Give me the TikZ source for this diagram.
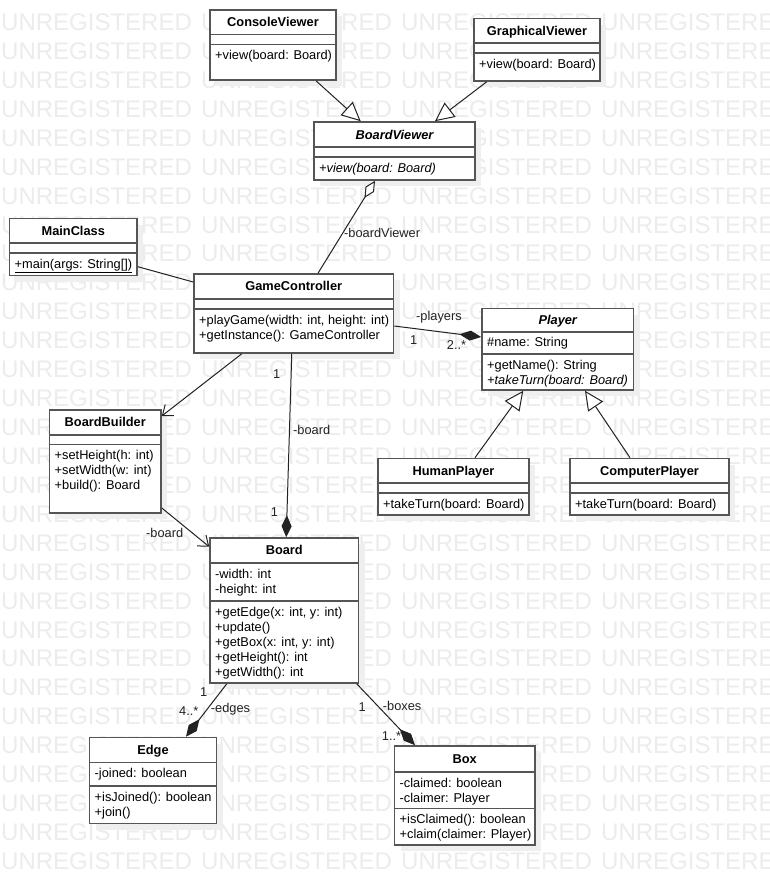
\documentclass[tikz,border=0pt]{standalone}
\usepackage{fontspec}
\setmainfont{Liberation Sans}
\usetikzlibrary{arrows.meta,fit,calc}
\definecolor{boxgray}{HTML}{555555}
\definecolor{shadowgray}{HTML}{EFEFEF}
\definecolor{wmgray}{HTML}{ECECEC}
\definecolor{linec}{HTML}{222222}
\tikzset{
  cls/.style={draw=boxgray, line width=1.6pt, fill=white, inner sep=0pt},
  dv/.style={draw=boxgray, line width=1.6pt},
  ttl/.style={font=\bfseries\fontsize{12.8}{15}\selectfont, anchor=base, inner sep=0pt},
  mtxt/.style={font=\fontsize{12.8}{15}\selectfont, anchor=base west, inner sep=0pt},
  lbl/.style={font=\fontsize{12.8}{15}\selectfont, anchor=base west, inner sep=0pt, text=linec},
  conn/.style={draw=linec, line width=1pt},
  gen/.style={conn, -{Triangle[open, length=19pt, width=18pt, fill=white]}},
  agg/.style={conn, {Diamond[open, length=20pt, width=10pt, fill=white]}-},
  comp/.style={conn, -{Diamond[length=22pt, width=10pt]}},
  nav/.style={conn, -{Straight Barb[length=9pt, width=14pt]}},
  wm/.style={font=\fontsize{24}{24}\selectfont, text=wmgray, anchor=base west, inner sep=0pt},
}
\newcommand\umlbox[7]{%
  \fill[shadowgray] ($(#2,#3)+(6,6)$) rectangle ($(#4,#5)+(6,6)$);
  \node[cls, fit={(#2,#3) (#4,#5)}] (#1) {};
  \draw[dv] (#2,#6) -- (#4,#6) (#2,#7) -- (#4,#7);
}
\newcommand\members[3]{\foreach \t [count=\i from 0] in {#3} {\node[mtxt] at (#1,{#2+15*\i}) {\t};}}
\begin{document}
\begin{tikzpicture}[x=1pt,y=-1pt]
\useasboundingbox (0,0) rectangle (769,886);
\fill[white] (0,0) rectangle (769,886);
% watermark
\begin{scope}
\clip (0,0) rectangle (769,886);
\foreach \r in {0,...,29} {\foreach \c in {0,...,3} {\node[wm] at ({1+200*\c},{30.5+28.93*\r}) {UNREGISTERED};}}
\end{scope}

% ConsoleViewer
\umlbox{cv}{210}{10}{336}{80}{34.5}{44.5}
\node[ttl] at (273,27) {ConsoleViewer};
\members{215}{59.5}{{+view(board: Board)}}
% GraphicalViewer
\umlbox{gv}{474}{18.5}{600}{81}{43}{53}
\node[ttl] at (537,35) {GraphicalViewer};
\members{479}{68}{{+view(board: Board)}}
% BoardViewer
\umlbox{bv}{314}{122}{475}{180}{147}{157}
\node[ttl] at (394.5,139) {\itshape BoardViewer};
\members{319}{172}{{\itshape +view(board: Board)}}
% MainClass
\umlbox{mc}{9.5}{218.5}{137}{275.5}{243}{253}
\node[ttl] at (73.25,235) {MainClass};
\members{14.5}{268}{{\underline{+main(args: String[])}}}
% GameController
\umlbox{gc}{194}{274}{393.5}{353}{299}{309}
\node[ttl] at (293.75,290.8) {GameController};
\members{199}{324}{{+playGame(width: int, height: int)},{+getInstance(): GameController}}
% Player
\umlbox{pl}{482}{308.5}{633.5}{390}{332}{354}
\node[ttl] at (557.75,324) {\itshape Player};
\members{487}{346.5}{{\#name: String}}
\members{487}{369}{{+getName(): String},{\itshape +takeTurn(board: Board)}}
% HumanPlayer
\umlbox{hp}{378}{458.5}{529}{515}{483}{493}
\node[ttl] at (453.5,475) {HumanPlayer};
\members{383}{508}{{+takeTurn(board: Board)}}
% ComputerPlayer
\umlbox{cp}{570}{458.5}{729}{515}{483}{493}
\node[ttl] at (649.5,475) {ComputerPlayer};
\members{575}{508}{{+takeTurn(board: Board)}}
% BoardBuilder
\umlbox{bb}{49.5}{410}{161}{513}{435}{444.5}
\node[ttl] at (105.25,426.8) {BoardBuilder};
\members{54.5}{459.5}{{+setHeight(h: int)},{+setWidth(w: int)},{+build(): Board}}
% Board
\umlbox{bd}{210}{538}{358.5}{683}{563}{601}
\node[ttl] at (284.25,554.8) {Board};
\members{215}{578}{{-width: int},{-height: int}}
\members{215}{616}{{+getEdge(x: int, y: int)},{+update()},{+getBox(x: int, y: int)},{+getHeight(): int},{+getWidth(): int}}
% Edge
\umlbox{ed}{89.5}{737.5}{216.5}{823.5}{762.5}{786}
\node[ttl] at (153,754.3) {Edge};
\members{94.5}{777.5}{{-joined: boolean}}
\members{94.5}{801}{{+isJoined(): boolean},{+join()}}
% Box
\umlbox{bx}{394.5}{746}{535}{845}{772}{808.5}
\node[ttl] at (464.75,763.3) {Box};
\members{399.5}{787}{{-claimed: boolean},{-claimer: Player}}
\members{399.5}{823.5}{{+isClaimed(): boolean},{+claim(claimer: Player)}}

% connectors
\draw[gen] ([xshift=43pt]cv.south) -- ([xshift=-33.8pt]bv.north);
\draw[gen] ([xshift=-50.3pt]gv.south) -- ([xshift=40.5pt]bv.north);
\draw[agg] ([xshift=-19.5pt]bv.south) -- ([xshift=24.25pt]gc.north);
\node[lbl] (lbv) at (344,237) {-boardViewer};
\draw[conn] ([yshift=-19.7pt]mc.east) -- ([yshift=31.5pt]gc.west);
\draw[comp] ([yshift=-12.5pt]gc.east) -- ([yshift=12.25pt]pl.west);
\node[lbl] (lpl) at (416,320) {-players};
\node[lbl] (lpl1) at (410,344) {1};
\node[lbl] (lpl2) at (446.7,349) {2..*};
\draw[gen] ([xshift=21.5pt]hp.north) -- ([xshift=-34.5pt]pl.south);
\draw[gen] ([xshift=-19.5pt]cp.north) -- ([xshift=27.25pt]pl.south);
\draw[nav] ([xshift=-52pt]gc.south) -- ([yshift=45.5pt]bb.east);
\draw[comp] ([xshift=-2pt]gc.south) -- ([xshift=2pt]bd.north);
\node[lbl] (lb1) at (273,378) {1};
\node[lbl] (lb) at (293,434) {-board};
\node[lbl] (lb2) at (270.7,516.7) {1};
\draw[nav] ([yshift=-46.5pt]bb.east) -- ([yshift=63.8pt]bd.west);
\node[lbl] (lbb) at (146,537) {-board};
\draw[comp] ([xshift=-57.5pt]bd.south) -- ([xshift=33pt]ed.north);
\node[lbl] (le1) at (200,696.7) {1};
\node[lbl] (le2) at (179,715) {4..*};
\node[lbl] (le) at (210.7,712.7) {-edges};
\draw[comp] ([xshift=72.5pt]bd.south) -- ([xshift=-49.75pt]bx.north);
\node[lbl] (lx1) at (358.3,711) {1};
\node[lbl] (lx) at (382.7,710) {-boxes};
\node[lbl] (lx2) at (381.7,740) {1..*};
\end{tikzpicture}
\end{document}
